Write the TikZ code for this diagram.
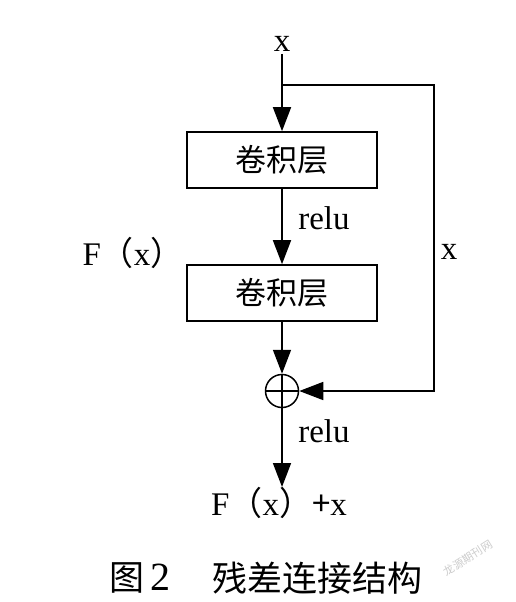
\documentclass[tikz,border=0pt]{standalone}
\usepackage{fontspec}
\setmainfont{Liberation Serif}
\newfontfamily\cjk{Noto Sans CJK SC}
\usetikzlibrary{arrows.meta}
\begin{document}
\begin{tikzpicture}[x=1pt,y=-1pt,
  lbl/.style={font=\fontsize{33}{36}\selectfont, inner sep=2pt},
  layerbox/.style={draw, line width=1.6pt, minimum width=190pt, minimum height=56pt, inner sep=0pt,
     font=\cjk\fontsize{31}{34}\selectfont},
  conn/.style={line width=1.6pt},
  arr/.style={conn, -{Triangle[length=24pt,width=18pt]}},
  sumnode/.style={circle, draw, line width=1.5pt, minimum size=33pt, inner sep=0pt}]
\useasboundingbox (0,0) rectangle (516,602);
\fill[white] (0,0) rectangle (516,602);

\node[lbl] (xin) at (282,44) {x};
\coordinate (br) at (282,85);
\coordinate (tr) at (434,85);
\node[layerbox] (box1) at (282,160) {卷积层};
\node[layerbox] (box2) at (282,293) {卷积层};
\node[sumnode] (sum) at (282,391) {};
\node[lbl, anchor=north, inner sep=0pt] (out) at (279,487) {F{\cjk （}x{\cjk ）}{\cjk +}x};

\node[lbl] (relu1) at (324,218) {relu};
\node[lbl] (relu2) at (324,431) {relu};
\node[lbl] (fx) at (133,253) {F{\cjk （}x{\cjk ）}};
\node[lbl] (xr) at (449,252) {x};

\draw[conn] (xin) -- (br);
\draw[arr] (br) -- (box1.north);
\draw[arr] (box1) -- (box2);
\draw[arr] (box2.south) -- (sum.north);
\draw[arr] (br) -- (tr) |- (sum.east);
\draw[arr] (sum.south) -- (sum.south |- out.north);
\draw[line width=1.2pt] (sum.north) -- (sum.south) (sum.west) -- (sum.east);

\node[anchor=west, inner sep=0pt, font=\cjk\fontsize{35}{38}\selectfont] (capa) at (109,578) {图\,{\rmfamily\fontsize{40}{40}\selectfont 2}};
\node[anchor=west, inner sep=0pt, font=\cjk\fontsize{35}{38}\selectfont] (capb) at (212,578) {残差连接结构};
\node[rotate=32, text=gray!40, inner sep=0pt, font=\cjk\fontsize{11}{12}\selectfont] (wm) at (468,558) {龙源期刊网};
\end{tikzpicture}
\end{document}
